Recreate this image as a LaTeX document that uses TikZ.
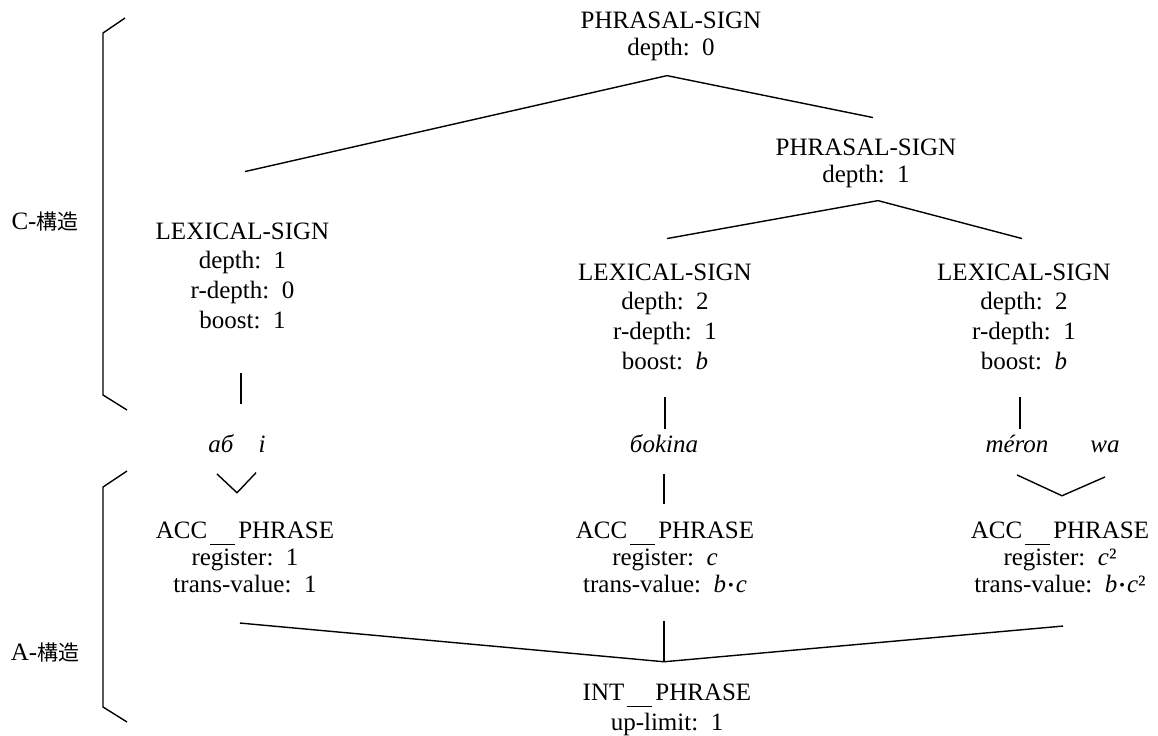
\documentclass[tikz,border=0pt]{standalone}
\usepackage{fontspec}
\setmainfont{Liberation Serif}
\newfontfamily\jpfont{Noto Sans CJK JP}
\newcommand\us{\kern1.5pt\rule[-3.5pt]{12.5pt}{0.5pt}\kern1.5pt}
\newcommand\bul{\kern1pt\raisebox{0.6pt}{\fontsize{8}{8}\selectfont •}\kern1pt}
\begin{document}
\begin{tikzpicture}[x=0.5pt,y=-0.5pt,line width=0.7pt]
\tikzstyle{every node}=[inner sep=2pt,align=center,anchor=base]
\tikzstyle{sign}=[font=\fontsize{12.5}{13.4}\selectfont]
\tikzstyle{lexsign}=[font=\fontsize{12.5}{14.8}\selectfont]
\tikzstyle{word}=[font=\fontsize{12.5}{13.4}\selectfont\itshape]
\useasboundingbox (0,0) rectangle (1158,735);
\node[sign] (ps0) at (671,55) {PHRASAL-SIGN\\depth:\ \ 0};
\node[sign] (ps1) at (866,182) {PHRASAL-SIGN\\depth:\ \ 1};
\node[lexsign] (lex1) at (242.5,328) {LEXICAL-SIGN\\depth:\ \ 1\\r-depth:\ \ 0\\boost:\ \ 1};
\node[lexsign] (lex2) at (665,369) {LEXICAL-SIGN\\depth:\ \ 2\\r-depth:\ \ 1\\boost:\ \ \textit{b}};
\node[lexsign] (lex3) at (1024,369) {LEXICAL-SIGN\\depth:\ \ 2\\r-depth:\ \ 1\\boost:\ \ \textit{b}};
\node[word] (ab) at (221,452) {aб};
\node[word] (wi) at (262,452) {i};
\node[word] (bokina) at (664,452) {бokina};
\node[word] (meron) at (1017,452) {méron};
\node[word] (wa) at (1105,452) {wa};
\node[sign] (acc1) at (245,592) {ACC\us PHRASE\\register:\ \ 1\\trans-value:\ \ 1};
\node[sign] (acc2) at (665,592) {ACC\us PHRASE\\register:\ \ \textit{c}\\trans-value:\ \ \textit{b}\bul\textit{c}};
\node[sign] (acc3) at (1060,592) {ACC\us PHRASE\\register:\ \ \textit{c}²\\trans-value:\ \ \textit{b}\bul\textit{c}²};
\node[lexsign] (int) at (667,730) {INT\us PHRASE\\up-limit:\ \ 1};
\node[sign] (cstr) at (45,229) {C-{\jpfont\fontsize{10.5}{12}\selectfont 構造}};
\node[sign] (astr) at (45,660) {A-{\jpfont\fontsize{10.5}{12}\selectfont 構造}};
\draw ([xshift=1.25pt,yshift=23.2pt]lex1.north) -- ([xshift=-2pt,yshift=-5.3pt]ps0.south) -- ([xshift=3.5pt,yshift=8.2pt]ps1.north);
\draw ([xshift=1pt,yshift=10.2pt]lex2.north) -- ([xshift=6pt,yshift=-4.3pt]ps1.south) -- ([xshift=-1pt,yshift=10.2pt]lex3.north);
\draw ([xshift=-0.75pt,yshift=-20pt]lex1.south) -- ([xshift=-0.75pt,yshift=-35.5pt]lex1.south);
\draw ([yshift=-11.5pt]lex2.south) -- ([yshift=-27.5pt]lex2.south);
\draw ([xshift=-2pt,yshift=-11.5pt]lex3.south) -- ([xshift=-2pt,yshift=-27.5pt]lex3.south);
\draw ([xshift=-2pt,yshift=-8.5pt]ab.south) -- ([xshift=-4pt,yshift=12.2pt]acc1.north) -- ([xshift=-3pt,yshift=-8pt]wi.south);
\draw ([yshift=-8.5pt]bokina.south) -- ([xshift=-0.5pt,yshift=6.7pt]acc2.north);
\draw ([yshift=-9pt]meron.south) -- ([xshift=1pt,yshift=10.7pt]acc3.north) -- ([yshift=-10pt]wa.south);
\draw ([xshift=-2.5pt,yshift=-13pt]acc1.south) -- ([xshift=-1.5pt,yshift=8.7pt]int.north);
\draw ([xshift=-0.5pt,yshift=-12pt]acc2.south) -- ([xshift=-1.5pt,yshift=8.7pt]int.north);
\draw ([xshift=1.5pt,yshift=-14.5pt]acc3.south) -- ([xshift=-1.5pt,yshift=8.7pt]int.north);
\draw (125,18) -- (103,33) -- (103,395) -- (127,410);
\draw (127,471) -- (103,487) -- (103,707) -- (127,722);
\end{tikzpicture}
\end{document}
